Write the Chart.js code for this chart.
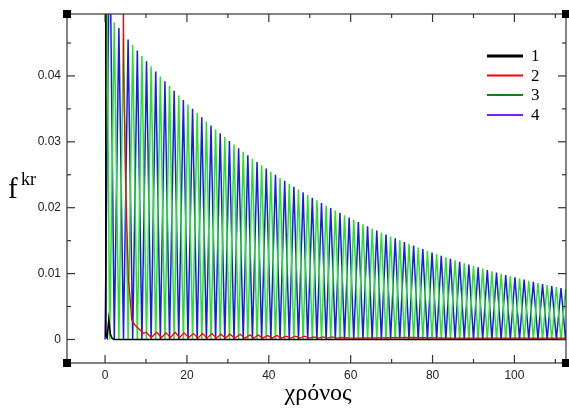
<!DOCTYPE html>
<html>
<head>
<meta charset="utf-8">
<script src="https://cdn.jsdelivr.net/npm/chart.js@4.4.1/dist/chart.umd.min.js"></script>
<style>
html,body{margin:0;padding:0;background:#fff;}
#c{display:block;}
</style>
</head>
<body>
<canvas id="c" width="569" height="410"></canvas>
<script>
// ---- data ----
const seriesNames = ['1', '2', '3', '4'];

// series 1 (black): drops to zero right after t=0
const t1 = [0, 0.2, 0.5, 0.9, 1.3, 1.7, 2.2, 113];
const v1 = [0.3, 0.0005, 0.0002, 0.003, 0.0008, 0.0002, 0, 0];

// series 2 (red): falls at t~4.5 then small decaying ripple
const t2 = [0, 4.4, 4.5, 5.1, 5.7, 6.1, 6.5, 7.3, 8.6, 9.4, 10.0, 11.3, 12.6, 13.8, 14.9, 16.0, 17.1, 18.2, 19.3, 20.4,
  21.6, 22.7, 23.8, 24.9, 26.1, 27.2, 28.3, 29.4, 30.5, 31.7, 33.0, 34.2, 35.4, 36.4, 37.4, 38.5, 39.7, 40.8, 42.0, 43.1,
  44.2, 45.3, 46.5, 47.6, 48.7, 49.8, 51.0, 52.1, 53.2, 54.3, 55.5, 56.6, 57.7, 60, 75, 85, 100, 113];
const v2 = [0.5, 0.06, 0.041, 0.022, 0.009, 0.0065, 0.003, 0.0022, 0.0014, 0.0009, 0.0011, 0.0003, 0.0011, 0.0003, 0.001, 0.0003, 0.0011, 0.0003, 0.001, 0.0003,
  0.0009, 0.0002, 0.0009, 0.0002, 0.0009, 0.0002, 0.0008, 0.0002, 0.0008, 0.0002, 0.0008, 0.0002, 0.0007, 0.0002, 0.0007, 0.0002, 0.0006, 0.0002, 0.0006, 0.0002,
  0.0005, 0.0002, 0.0005, 0.0002, 0.0005, 0.0002, 0.0004, 0.0002, 0.0004, 0.0002, 0.0004, 0.0002, 0.0003, 0.0002, 0.0003, 0.0002, 0.0002, 0.0002];

// series 3 / 4 (oscillating, shared time samples at peaks and troughs)
const tOsc = [0, 1.125, 2.25, 3.375, 4.5, 5.625, 6.75, 7.875, 9, 10.125,
  11.25, 12.375, 13.5, 14.625, 15.75, 16.875, 18, 19.125, 20.25, 21.375,
  22.5, 23.625, 24.75, 25.875, 27, 28.125, 29.25, 30.375, 31.5, 32.625,
  33.75, 34.875, 36, 37.125, 38.25, 39.375, 40.5, 41.625, 42.75, 43.875,
  45, 46.125, 47.25, 48.375, 49.5, 50.625, 51.75, 52.875, 54, 55.125,
  56.25, 57.375, 58.5, 59.625, 60.75, 61.875, 63, 64.125, 65.25, 66.375,
  67.5, 68.625, 69.75, 70.875, 72, 73.125, 74.25, 75.375, 76.5, 77.625,
  78.75, 79.875, 81, 82.125, 83.25, 84.375, 85.5, 86.625, 87.75, 88.875,
  90, 91.125, 92.25, 93.375, 94.5, 95.625, 96.75, 97.875, 99, 100.125,
  101.25, 102.375, 103.5, 104.625, 105.75, 106.875, 108, 109.125, 110.25, 111.375,
  112.5, 113.625];
const v3 = [0.09, 0, 0.04816, 0, 0.04639, 0, 0.04468, 0, 0.04303, 0,
  0.04145, 0, 0.03993, 0, 0.03846, 0, 0.03704, 0, 0.03568, 0,
  0.03436, 0, 0.03310, 0, 0.03188, 0, 0.03071, 0, 0.02958, 0,
  0.02849, 0, 0.02744, 0, 0.02643, 0, 0.02546, 0, 0.02452, 0,
  0.02362, 0, 0.02275, 0, 0.02191, 0, 0.02111, 0, 0.02033, 0,
  0.01958, 0, 0.01886, 0, 0.01817, 0, 0.01750, 0, 0.01685, 0,
  0.01623, 0, 0.01564, 0, 0.01506, 0, 0.01451, 0, 0.01397, 0,
  0.01346, 0, 0.01296, 0, 0.01249, 0, 0.01203, 0, 0.01158, 0,
  0.01116, 0, 0.01075, 0, 0.01035, 0, 0.00997, 0, 0.00960, 0,
  0.00925, 0, 0.00891, 0, 0.00858, 0, 0.00827, 0, 0.00796, 0,
  0.00767, 0];
const v4 = [0, 0.065, 0, 0.04726, 0, 0.04552, 0, 0.04385, 0, 0.04224,
  0, 0.04068, 0, 0.03918, 0, 0.03774, 0, 0.03635, 0, 0.03501,
  0, 0.03372, 0, 0.03248, 0, 0.03129, 0, 0.03014, 0, 0.02903,
  0, 0.02796, 0, 0.02693, 0, 0.02594, 0, 0.02499, 0, 0.02407,
  0, 0.02318, 0, 0.02233, 0, 0.02151, 0, 0.02071, 0, 0.01995,
  0, 0.01922, 0, 0.01851, 0, 0.01783, 0, 0.01717, 0, 0.01654,
  0, 0.01593, 0, 0.01535, 0, 0.01478, 0, 0.01424, 0, 0.01371,
  0, 0.01321, 0, 0.01272, 0, 0.01225, 0, 0.01180, 0, 0.01137,
  0, 0.01095, 0, 0.01055, 0, 0.01016, 0, 0.00979, 0, 0.00943,
  0, 0.00908, 0, 0.00874, 0, 0.00842, 0, 0.00811, 0, 0.00781,
  0, 0.00753];

// axis ticks
const xTickVals = [0, 20, 40, 60, 80, 100];
const xMinorVals = [10, 30, 50, 70, 90, 110];
const yTickVals = [0, 0.01, 0.02, 0.03, 0.04];
const yTickLabels = ['0', '0.01', '0.02', '0.03', '0.04'];
const yMinorVals = [0.005, 0.015, 0.025, 0.035, 0.045];

// ---- styling ----
const lineColors = ['#000000', '#ff0000', '#22e622', '#1a1aee'];
const legendColors = ['#000000', '#ff0000', '#0a870a', '#7f1fff'];
const legendWidths = [3, 2, 2, 2];

function pts(ts, vs) { return ts.map((t, i) => ({x: t, y: vs[i]})); }

const datasets = [
  {label: seriesNames[0], data: pts(t1, v1), borderColor: lineColors[0], borderWidth: 1.6, order: 0},
  {label: seriesNames[1], data: pts(t2, v2), borderColor: lineColors[1], borderWidth: 1.3, order: 1},
  {label: seriesNames[2], data: pts(tOsc, v3), borderColor: lineColors[2], borderWidth: 1.5, order: 2},
  {label: seriesNames[3], data: pts(tOsc, v4), borderColor: lineColors[3], borderWidth: 1.5, order: 3}
].map(d => Object.assign(d, {pointRadius: 0, tension: 0, fill: false}));

const decor = {
  id: 'decor',
  afterDraw(chart) {
    const {ctx, chartArea: a, scales: {x, y}} = chart;
    ctx.save();
    const seg = (x1, y1, x2, y2) => { ctx.beginPath(); ctx.moveTo(x1, y1); ctx.lineTo(x2, y2); ctx.stroke(); };
    ctx.strokeStyle = '#333';
    ctx.lineWidth = 1.2;
    ctx.strokeRect(a.left, a.top, a.right - a.left, a.bottom - a.top);
    xTickVals.forEach(v => { const p = x.getPixelForValue(v); seg(p, a.bottom, p, a.bottom - 8); seg(p, a.top, p, a.top + 8); });
    xMinorVals.forEach(v => { const p = x.getPixelForValue(v); if (p < a.right) { seg(p, a.bottom, p, a.bottom - 4); seg(p, a.top, p, a.top + 4); } });
    yTickVals.forEach(v => { const p = y.getPixelForValue(v); seg(a.left, p, a.left + 8, p); seg(a.right, p, a.right - 8, p); });
    yMinorVals.forEach(v => { const p = y.getPixelForValue(v); seg(a.left, p, a.left + 4, p); seg(a.right, p, a.right - 4, p); });
    // corner handles
    ctx.fillStyle = '#000';
    [[a.left, a.top], [a.right, a.top], [a.left, a.bottom], [a.right, a.bottom]].forEach(([cx, cy]) => ctx.fillRect(cx - 4, cy - 4, 8, 8));
    // legend
    const ly = [56, 75.5, 95, 115];
    chart.data.datasets.forEach((d, i) => {
      ctx.strokeStyle = legendColors[i];
      ctx.lineWidth = legendWidths[i];
      seg(487, ly[i], 523, ly[i]);
      ctx.fillStyle = '#000';
      ctx.font = '17px "Liberation Serif"';
      ctx.textAlign = 'left';
      ctx.textBaseline = 'middle';
      ctx.fillText(d.label, 531, ly[i] + 1);
    });
    // axis titles
    ctx.fillStyle = '#000';
    ctx.textBaseline = 'alphabetic';
    ctx.textAlign = 'center';
    ctx.font = '24px "Liberation Serif"';
    ctx.fillText('χρόνος', 318, 400);
    ctx.textAlign = 'left';
    ctx.font = '29px "Liberation Serif"';
    ctx.fillText('f', 8, 198);
    ctx.font = '18px "Liberation Serif"';
    ctx.fillText('kr', 21, 185);
    ctx.restore();
  }
};

new Chart(document.getElementById('c'), {
  type: 'line',
  data: {datasets},
  options: {
    responsive: false,
    animation: false,
    devicePixelRatio: 1,
    layout: {padding: {top: 14, right: 3, left: 0, bottom: 0}},
    plugins: {legend: {display: false}, tooltip: {enabled: false}},
    scales: {
      x: {
        type: 'linear', min: -9.3, max: 112.6,
        grid: {display: false, drawTicks: false},
        border: {display: false},
        ticks: {font: {family: 'Liberation Sans', size: 12}, color: '#222', padding: 5, maxRotation: 0},
        afterBuildTicks: s => { s.ticks = xTickVals.map(v => ({value: v})); },
        afterFit: s => { s.height = 47; }
      },
      y: {
        type: 'linear', min: -0.00357, max: 0.0494,
        grid: {display: false, drawTicks: false},
        border: {display: false},
        ticks: {font: {family: 'Liberation Sans', size: 12}, color: '#222', padding: 6,
          callback: (v, i) => yTickLabels[i]},
        afterBuildTicks: s => { s.ticks = yTickVals.map(v => ({value: v})); },
        afterFit: s => { s.width = 67; }
      }
    }
  },
  plugins: [decor]
});
</script>
</body>
</html>
